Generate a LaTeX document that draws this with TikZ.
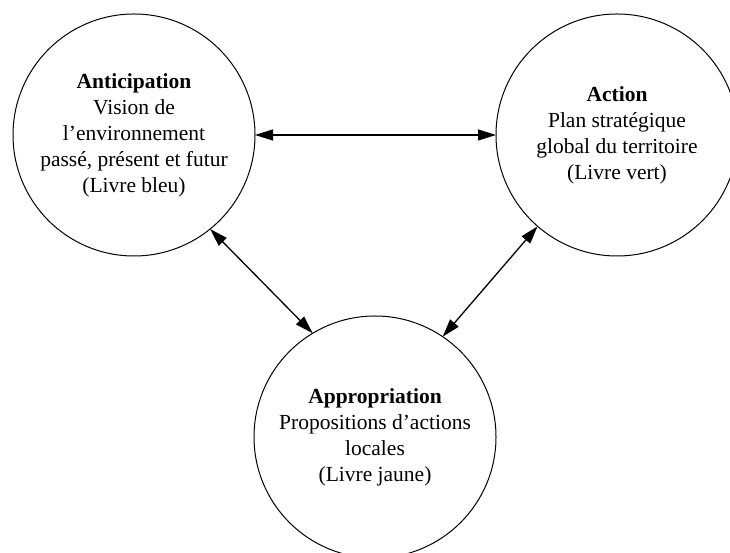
\documentclass[tikz,border=0pt]{standalone}
\usepackage{fontspec}
\setmainfont{Liberation Serif}
\usetikzlibrary{arrows.meta}
\begin{document}
\begin{tikzpicture}[x=1pt,y=1pt,
  bubble/.style={circle, draw, line width=1pt, minimum size=242pt, inner sep=0pt, outer sep=0pt, align=center, font=\fontsize{21.5}{26}\selectfont},
  link/.style={line width=1.3pt, {Triangle[length=18pt,width=11pt]}-{Triangle[length=18pt,width=11pt]}}]
\useasboundingbox (0,0) rectangle (730,553);
\fill[white] (0,0) rectangle (730,553);
\clip (0,0) rectangle (730,553);
\node[bubble] (ant) at (134,418) {\textbf{Anticipation}\\Vision de\\l’environnement\\passé, présent et futur\\(Livre bleu)};
\node[bubble] (act) at (617,418) {\textbf{Action}\\Plan stratégique\\global du territoire\\(Livre vert)};
\node[bubble] (app) at (375,116) {\textbf{Appropriation}\\Propositions d’actions\\locales\\(Livre jaune)};
\draw[link] (ant.east) -- (act.west);
\draw[link] (ant.-51) -- (app.121);
\draw[link] (act.-131) -- (app.56);
\end{tikzpicture}
\end{document}
